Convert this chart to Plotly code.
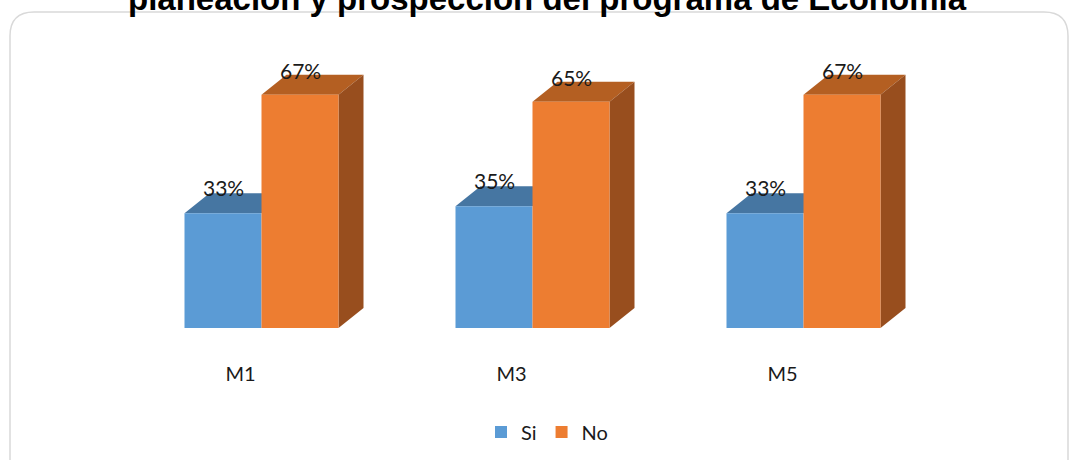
import plotly.graph_objects as go

categories = ["M1", "M3", "M5"]
si_values = [33, 35, 33]
no_values = [67, 65, 67]
series_names = ["Si", "No"]
title_text = "planeación y prospección del programa de Economía"

W, H = 1071, 460
zero_px = 328            # pixel row of the value 0
px_per_unit_y = 3.48     # pixels per percent
group_px = 271           # pixels between groups
first_center_px = 261.5
bar_px = 77
depth_dx_px, depth_dy_px = 25, 20

x_range = [-first_center_px / group_px, (W - first_center_px) / group_px]
y_range = [0, zero_px / px_per_unit_y]
bw = bar_px / group_px
ddx = depth_dx_px / group_px
ddy = depth_dy_px / px_per_unit_y

blue, blue_top = "#5B9BD5", "#4676A2"
orange, orange_top, orange_side = "#ED7D31", "#B45F22", "#984E1E"
font_family = "Century Gothic, Lato, sans-serif"
text_color = "#1a1a1a"

xs = list(range(len(categories)))
fig = go.Figure()
fig.add_trace(go.Bar(x=xs, y=si_values, name=series_names[0], width=bw, offset=-bw,
                     marker=dict(color=blue, line=dict(width=0)), hoverinfo="skip"))
fig.add_trace(go.Bar(x=xs, y=no_values, name=series_names[1], width=bw, offset=0,
                     marker=dict(color=orange, line=dict(width=0)), hoverinfo="skip"))

shapes = []
def poly(pts, color):
    d = "M" + " L".join(f"{x},{y}" for x, y in pts) + " Z"
    shapes.append(dict(type="path", xref="x", yref="y", path=d, fillcolor=color,
                       line=dict(width=0), layer="below"))

annotations = []
for i in xs:
    # Si bar
    x0, x1, v = i - bw, i, si_values[i]
    poly([(x0, v), (x1, v), (x1 + ddx, v + ddy), (x0 + ddx, v + ddy)], blue_top)
    annotations.append(dict(x=i - bw / 2, y=v, text=f"{v}%", showarrow=False, yshift=26,
                            font=dict(size=21, color=text_color, family=font_family)))
    # No bar
    x0, x1, v = i, i + bw, no_values[i]
    poly([(x0, v), (x1, v), (x1 + ddx, v + ddy), (x0 + ddx, v + ddy)], orange_top)
    poly([(x1, 0), (x1 + ddx, ddy), (x1 + ddx, v + ddy), (x1, v)], orange_side)
    annotations.append(dict(x=i + bw / 2, y=v, text=f"{v}%", showarrow=False, yshift=24,
                            font=dict(size=21, color=text_color, family=font_family)))

# rounded frame (pixel -> paper)
def px2paper(px, py):
    return px / W, (zero_px - py) / zero_px
L, T, R, B, r = 10, 12, 1068, 480, 24
pts = [("M", L, T + r), ("Q", L, T, L + r, T), ("L", R - r, T), ("Q", R, T, R, T + r),
       ("L", R, B)]
seg = []
for p in pts:
    if p[0] == "Q":
        a = px2paper(p[1], p[2]); b = px2paper(p[3], p[4])
        seg.append(f"Q{a[0]},{a[1]} {b[0]},{b[1]}")
    else:
        a = px2paper(p[1], p[2])
        seg.append(f"{p[0]}{a[0]},{a[1]}")
a = px2paper(L, B)
frame_path = " ".join(seg) + f" M{px2paper(L, T + r)[0]},{px2paper(L, T + r)[1]} L{a[0]},{a[1]}"
shapes.append(dict(type="path", xref="paper", yref="paper", path=frame_path,
                   line=dict(color="#d9d9d9", width=1.5), layer="below"))

# title (partly cut off at the top, as in the reference)
annotations.append(dict(x=547 / W, y=px2paper(0, 19)[1], xref="paper", yref="paper",
                        text=f"<b>{title_text}</b>", showarrow=False, yanchor="bottom",
                        font=dict(size=33, color="#000000", family="Liberation Sans, Arial, sans-serif")))

fig.update_layout(
    width=W, height=H,
    margin=dict(l=0, r=0, t=0, b=H - zero_px),
    paper_bgcolor="white", plot_bgcolor="rgba(0,0,0,0)",
    barmode="overlay",
    showlegend=True,
    legend=dict(orientation="h", x=547 / W, xanchor="center",
                y=px2paper(0, 432)[1], yanchor="middle",
                font=dict(size=20, color=text_color, family=font_family),
                bgcolor="rgba(0,0,0,0)"),
    xaxis=dict(range=x_range, tickvals=xs, ticktext=categories, showgrid=False,
               zeroline=False, showline=False, ticks="", ticklabelstandoff=32,
               ticklabelshift=-21,
               tickfont=dict(size=20, color=text_color, family=font_family), fixedrange=True),
    yaxis=dict(range=y_range, showgrid=False, zeroline=False, showline=False,
               showticklabels=False, fixedrange=True),
    shapes=shapes, annotations=annotations,
)

fig.write_html("out.html", config={"displayModeBar": False},
               post_script="document.body.style.margin='0';document.body.style.overflow='hidden';")
